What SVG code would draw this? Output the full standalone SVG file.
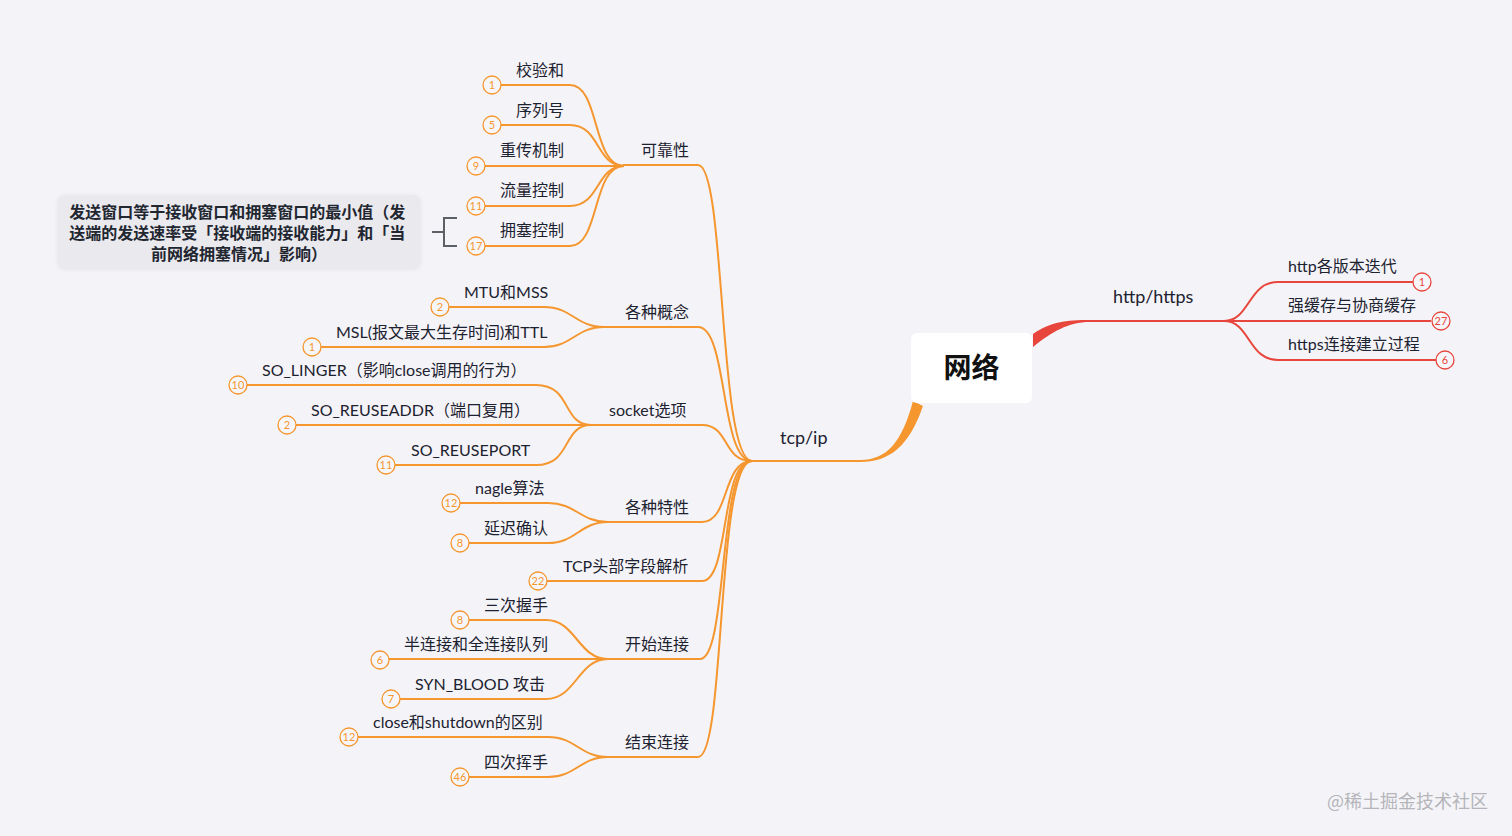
<svg xmlns="http://www.w3.org/2000/svg" width="1512" height="836" viewBox="0 0 1512 836">
<style>
.t{font-family:Lato,"Noto Sans CJK SC",sans-serif;font-size:16px;fill:#1d2230}
.o{fill:none;stroke:#f5962e;stroke-width:2}
.r{fill:none;stroke:#e8453c;stroke-width:2}
.co{fill:#f6f6fa;stroke:#f5962e;stroke-width:1.3}
.cr{fill:#f6f6fa;stroke:#e8453c;stroke-width:1.3}
.no{font-family:Lato,"Noto Sans",sans-serif;font-size:11px;fill:#f5962e;text-anchor:middle}
.nr{font-family:Lato,"Noto Sans",sans-serif;font-size:11px;fill:#e8453c;text-anchor:middle}
</style>
<defs>
<filter id="sh" x="-10%" y="-20%" width="120%" height="150%"><feDropShadow dx="0" dy="1" stdDeviation="2" flood-color="#000" flood-opacity="0.08"/></filter>
</defs>
<rect width="1512" height="836" fill="#f4f4f8"/>

<g id="connectors">
<path d="M860,460 C887,460 902,442 913,401 L923,406 C909,446 890,462 860,462 Z" fill="#f5962e"/>
<path d="M1033,334 C1050,322 1066,320 1090,320 L1090,322 C1068,322 1052,332 1033,347 Z" fill="#e8453c"/>
<path class="o" d="M752,461 L862,461"/>
<path class="r" d="M1088,321 L1226,321"/>
<path class="r" d="M1224,321 C1250,321 1248,282 1278,282 L1413,282"/>
<path class="r" d="M1224,321 L1431,321"/>
<path class="r" d="M1224,321 C1250,321 1248,360 1278,360 L1436,360"/>
<path class="o" d="M752,461 C718,461 726,165 698,165 L623,165"/>
<path class="o" d="M752,461 C720,461 728,327 698,327 L603,327"/>
<path class="o" d="M752,461 C722,461 730,425 702,425 L590,425"/>
<path class="o" d="M752,461 C722,461 730,522 702,522 L607,522"/>
<path class="o" d="M752,461 C720,461 730,581 702,581 L547,581"/>
<path class="o" d="M752,461 C718,461 728,659 700,659 L607,659"/>
<path class="o" d="M752,461 C716,461 726,757 698,757 L607,757"/>
<path class="o" d="M624,166 C592,166 600,85 570,85 L501,85"/>
<path class="o" d="M624,166 C596,166 600,125 570,125 L501,125"/>
<path class="o" d="M624,166 L485,166"/>
<path class="o" d="M624,166 C596,166 600,206 570,206 L485,206"/>
<path class="o" d="M624,166 C592,166 600,246 570,246 L485,246"/>
<path class="o" d="M604,327 C576,327 572,307 544,307 L449,307"/>
<path class="o" d="M604,327 C576,327 572,347 544,347 L321,347"/>
<path class="o" d="M591,425 C562,425 572,385 536,385 L247,385"/>
<path class="o" d="M591,425 L296,425"/>
<path class="o" d="M591,425 C562,425 572,465 536,465 L395,465"/>
<path class="o" d="M608,522 C580,522 576,503 548,503 L460,503"/>
<path class="o" d="M608,522 C580,522 576,543 548,543 L468,543"/>
<path class="o" d="M608,659 C578,659 576,620 546,620 L469,620"/>
<path class="o" d="M608,659 L389,659"/>
<path class="o" d="M608,659 C578,659 576,699 546,699 L400,699"/>
<path class="o" d="M608,757 C580,757 576,737 548,737 L358,737"/>
<path class="o" d="M608,757 C580,757 576,777 548,777 L469,777"/>
<path d="M432,232 L444,232 M457,218 L444,218 L444,246 L457,246" fill="none" stroke="#5d5f66" stroke-width="2"/>
</g>

<g id="root">
<rect x="911" y="333" width="121" height="70" rx="6" fill="#ffffff"/>
<text x="971.5" y="378" text-anchor="middle" style="font-family:'Noto Sans CJK SC',sans-serif;font-size:28px;font-weight:bold;fill:#111">网络</text>
</g>

<g id="tcpip"><text class="t" x="780" y="444" style="font-size:18px">tcp/ip</text></g>
<g id="http"><text class="t" x="1113" y="303" style="font-size:18px">http/https</text></g>

<g id="http-1"><text class="t" x="1288" y="272">http各版本迭代</text><circle class="cr" cx="1422" cy="282" r="9"/><text class="nr" x="1422" y="286">1</text></g>
<g id="http-2"><text class="t" x="1288" y="311">强缓存与协商缓存</text><circle class="cr" cx="1441" cy="321" r="9"/><text class="nr" x="1441" y="325">27</text></g>
<g id="http-3"><text class="t" x="1288" y="350">https连接建立过程</text><circle class="cr" cx="1445" cy="360" r="9"/><text class="nr" x="1445" y="364">6</text></g>

<g id="kekaoxing"><text class="t" x="641" y="156">可靠性</text></g>
<g id="k1"><text class="t" x="516" y="76">校验和</text><circle class="co" cx="492" cy="85" r="9"/><text class="no" x="492" y="89">1</text></g>
<g id="k2"><text class="t" x="516" y="116">序列号</text><circle class="co" cx="492" cy="125" r="9"/><text class="no" x="492" y="129">5</text></g>
<g id="k3"><text class="t" x="500" y="156">重传机制</text><circle class="co" cx="476" cy="166" r="9"/><text class="no" x="476" y="170">9</text></g>
<g id="k4"><text class="t" x="500" y="196">流量控制</text><circle class="co" cx="476" cy="206" r="9"/><text class="no" x="476" y="210">11</text></g>
<g id="k5"><text class="t" x="500" y="236">拥塞控制</text><circle class="co" cx="476" cy="246" r="9"/><text class="no" x="476" y="250">17</text></g>

<g id="note">
<rect x="58" y="195" width="362" height="73" rx="6" fill="#e9e9ee" filter="url(#sh)"/>
<text text-anchor="middle" style="font-family:'Noto Sans CJK SC',sans-serif;font-size:16px;font-weight:bold;fill:#222630">
<tspan x="239" y="218">发送窗口等于接收窗口和拥塞窗口的最小值（发</tspan>
<tspan x="239" y="239">送端的发送速率受「接收端的接收能力」和「当</tspan>
<tspan x="239" y="260">前网络拥塞情况」影响）</tspan>
</text>
</g>

<g id="gainian"><text class="t" x="625" y="318">各种概念</text></g>
<g id="g1"><text class="t" x="464" y="298">MTU和MSS</text><circle class="co" cx="440" cy="307" r="9"/><text class="no" x="440" y="311">2</text></g>
<g id="g2"><text class="t" x="336" y="338">MSL(报文最大生存时间)和TTL</text><circle class="co" cx="312" cy="347" r="9"/><text class="no" x="312" y="351">1</text></g>

<g id="socket"><text class="t" x="609" y="416">socket选项</text></g>
<g id="s1"><text class="t" x="262" y="376">SO_LINGER（影响close调用的行为）</text><circle class="co" cx="238" cy="385" r="9"/><text class="no" x="238" y="389">10</text></g>
<g id="s2"><text class="t" x="311" y="416">SO_REUSEADDR（端口复用）</text><circle class="co" cx="287" cy="425" r="9"/><text class="no" x="287" y="429">2</text></g>
<g id="s3"><text class="t" x="411" y="456">SO_REUSEPORT</text><circle class="co" cx="386" cy="465" r="9"/><text class="no" x="386" y="469">11</text></g>

<g id="texing"><text class="t" x="625" y="513">各种特性</text></g>
<g id="x1"><text class="t" x="475" y="494">nagle算法</text><circle class="co" cx="451" cy="503" r="9"/><text class="no" x="451" y="507">12</text></g>
<g id="x2"><text class="t" x="484" y="534">延迟确认</text><circle class="co" cx="460" cy="543" r="9"/><text class="no" x="460" y="547">8</text></g>

<g id="tcphead"><text class="t" x="563" y="572">TCP头部字段解析</text><circle class="co" cx="538" cy="581" r="9"/><text class="no" x="538" y="585">22</text></g>

<g id="kaishi"><text class="t" x="625" y="650">开始连接</text></g>
<g id="ks1"><text class="t" x="484" y="611">三次握手</text><circle class="co" cx="460" cy="620" r="9"/><text class="no" x="460" y="624">8</text></g>
<g id="ks2"><text class="t" x="404" y="650">半连接和全连接队列</text><circle class="co" cx="380" cy="660" r="9"/><text class="no" x="380" y="664">6</text></g>
<g id="ks3"><text class="t" x="415" y="690">SYN_BLOOD 攻击</text><circle class="co" cx="391" cy="699" r="9"/><text class="no" x="391" y="703">7</text></g>

<g id="jieshu"><text class="t" x="625" y="748">结束连接</text></g>
<g id="js1"><text class="t" x="373" y="728">close和shutdown的区别</text><circle class="co" cx="349" cy="737" r="9"/><text class="no" x="349" y="741">12</text></g>
<g id="js2"><text class="t" x="484" y="768">四次挥手</text><circle class="co" cx="460" cy="777" r="9"/><text class="no" x="460" y="781">46</text></g>

<g id="watermark"><text x="1488" y="808" text-anchor="end" style="font-family:'Noto Sans CJK SC',sans-serif;font-size:18px;fill:#b4b4ba">@稀土掘金技术社区</text></g>
</svg>
